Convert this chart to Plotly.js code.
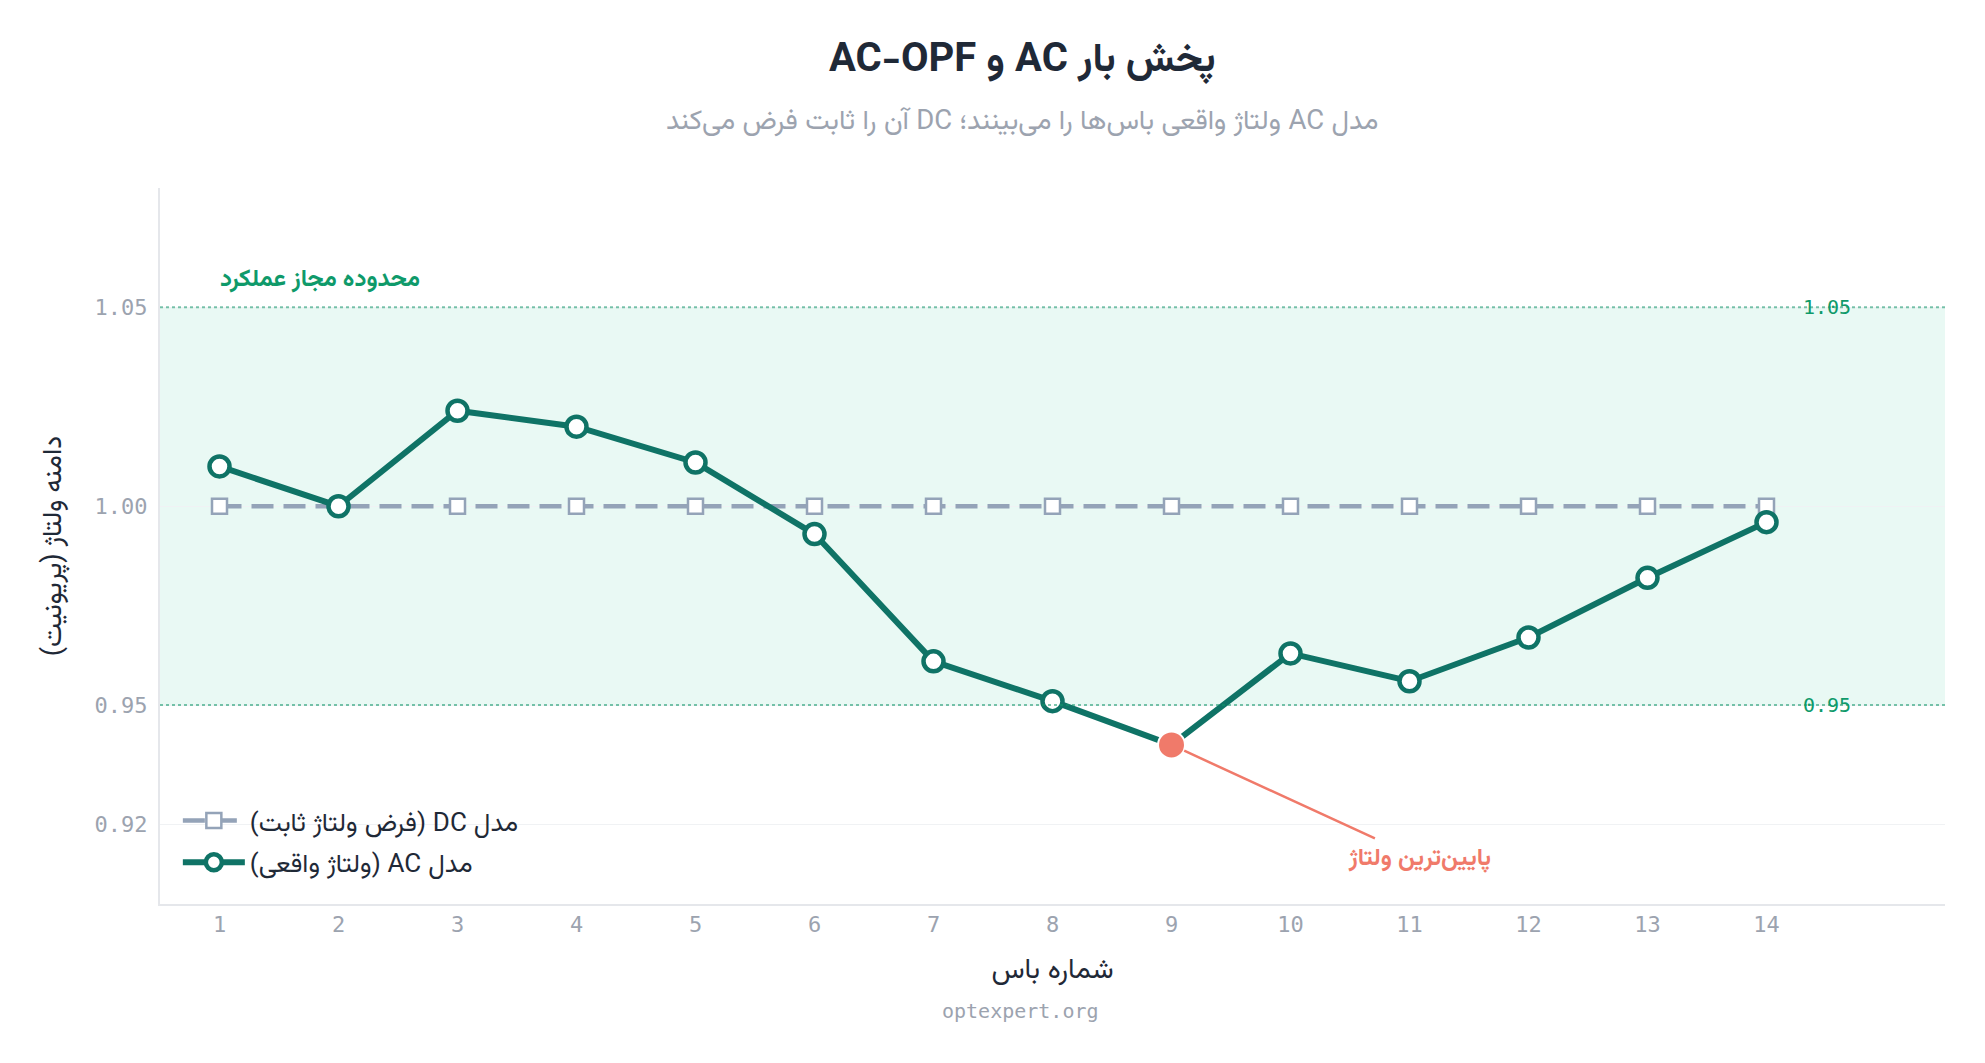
<!DOCTYPE html>
<html>
<head>
<meta charset="utf-8">
<script src="https://cdn.plot.ly/plotly-3.0.1.min.js"></script>
<style>
  html, body { margin: 0; padding: 0; background: #ffffff; }
  #gd { width: 1985px; height: 1063px; }
</style>
</head>
<body>
<div id="gd"></div>
<script>
// bus numbers and per-unit voltages
var buses = [1, 2, 3, 4, 5, 6, 7, 8, 9, 10, 11, 12, 13, 14];
var acVoltage = [1.010, 1.000, 1.024, 1.020, 1.011, 0.993, 0.961, 0.951, 0.940, 0.963, 0.956, 0.967, 0.982, 0.996];
var dcVoltage = [1, 1, 1, 1, 1, 1, 1, 1, 1, 1, 1, 1, 1, 1];
var vMin = 0.95;
var vMax = 1.05;
var yTicks = [0.92, 0.95, 1.00, 1.05];
var yTickText = ["0.92", "0.95", "1.00", "1.05"];

var faFont = "Vazirmatn, 'Noto Sans Arabic', 'DejaVu Sans', sans-serif";
var monoFont = "'DejaVu Sans Mono', 'Liberation Mono', monospace";
var teal = "#0f7366";
var coral = "#f07a6a";
var green = "#0f9a6a";

// force right-to-left order for Persian strings inside svg text
function rtl(s) { return "\u202B" + s + "\u202C"; }

// lowest AC voltage
var lowIdx = 0;
acVoltage.forEach(function (v, i) { if (v < acVoltage[lowIdx]) lowIdx = i; });

var dcTrace = {
  x: buses,
  y: dcVoltage,
  type: "scatter",
  mode: "lines+markers",
  name: rtl("مدل DC (فرض ولتاژ ثابت)"),
  legendgroup: "dc",
  line: { color: "#94a3b8", width: 4.5, dash: "22px,10px" },
  marker: { symbol: "square", size: 15, color: "#ffffff", line: { color: "#94a3b8", width: 2.5 } }
};

var acTrace = {
  x: buses,
  y: acVoltage,
  type: "scatter",
  mode: "lines+markers",
  name: rtl("مدل AC (ولتاژ واقعی)"),
  legendgroup: "ac",
  line: { color: teal, width: 6 },
  marker: { symbol: "circle", size: 20, color: "#ffffff", line: { color: teal, width: 4.5 } }
};

var lowTrace = {
  x: [buses[lowIdx]],
  y: [acVoltage[lowIdx]],
  type: "scatter",
  mode: "markers",
  showlegend: false,
  hoverinfo: "skip",
  marker: { symbol: "circle", size: 27, color: coral, line: { color: "#ffffff", width: 2 } }
};

var layout = {
  width: 1985,
  height: 1063,
  paper_bgcolor: "#ffffff",
  plot_bgcolor: "#ffffff",
  margin: { l: 160, r: 40, t: 188, b: 159 },
  font: { family: faFont, color: "#1f2937" },
  title: {
    text: rtl("<b>پخش بار AC و AC-OPF</b>"),
    font: { family: faFont, size: 40, color: "#1f2937" },
    xref: "container",
    yref: "container",
    x: 0.515,
    xanchor: "center",
    y: 0.946,
    yanchor: "middle"
  },
  xaxis: {
    range: [0.5, 15.5],
    tickvals: buses,
    ticktext: buses.map(String),
    showgrid: false,
    zeroline: false,
    showline: true,
    linecolor: "#e5e7eb",
    linewidth: 2,
    ticks: "",
    tickfont: { family: monoFont, size: 22, color: "#9ca3af" },
    title: { text: rtl("شماره باس"), font: { family: faFont, size: 28, color: "#1f2937" }, standoff: 22 }
  },
  yaxis: {
    range: [0.90, 1.08],
    tickvals: yTicks,
    ticktext: yTickText,
    showgrid: true,
    gridcolor: "#f0f2f4",
    gridwidth: 1,
    zeroline: false,
    showline: true,
    linecolor: "#e5e7eb",
    linewidth: 2,
    ticks: "",
    ticklabelstandoff: 6,
    tickfont: { family: monoFont, size: 22, color: "#9ca3af" },
    title: { text: rtl("دامنه ولتاژ (پریونیت)"), font: { family: faFont, size: 27, color: "#1f2937" }, standoff: 25 }
  },
  legend: {
    x: 0.01,
    y: 0.025,
    xanchor: "left",
    yanchor: "bottom",
    bgcolor: "rgba(255,255,255,0)",
    font: { family: faFont, size: 26, color: "#1f2937" },
    itemwidth: 62,
    tracegroupgap: 5
  },
  shapes: [
    {
      type: "rect", xref: "paper", yref: "y", x0: 0, x1: 1, y0: vMin, y1: vMax,
      fillcolor: "rgba(16,185,129,0.09)", line: { width: 0 }, layer: "below"
    },
    {
      type: "line", xref: "paper", yref: "y", x0: 0, x1: 1, y0: vMax, y1: vMax,
      line: { color: "rgba(16,150,105,0.55)", width: 2, dash: "dot" }
    },
    {
      type: "line", xref: "paper", yref: "y", x0: 0, x1: 1, y0: vMin, y1: vMin,
      line: { color: "rgba(16,150,105,0.55)", width: 2, dash: "dot" }
    }
  ],
  annotations: [
    {
      xref: "paper", yref: "paper", x: 0.483, y: 1.0908, xanchor: "center", yanchor: "middle",
      showarrow: false,
      text: rtl("مدل AC ولتاژ واقعی باس‌ها را می‌بینند؛ DC آن را ثابت فرض می‌کند"),
      font: { family: faFont, size: 27.5, color: "#9ca3af" }
    },
    {
      xref: "x", yref: "y", x: buses[0], y: vMax, xanchor: "left", yanchor: "bottom",
      xshift: -2, yshift: 6, showarrow: false,
      text: rtl("<b>محدوده مجاز عملکرد</b>"),
      font: { family: faFont, size: 24, color: green }
    },
    {
      xref: "paper", yref: "y", x: 0.934, y: vMax, xanchor: "center", yanchor: "middle",
      showarrow: false, text: vMax.toFixed(2),
      font: { family: monoFont, size: 20, color: green }
    },
    {
      xref: "paper", yref: "y", x: 0.934, y: vMin, xanchor: "center", yanchor: "middle",
      showarrow: false, text: vMin.toFixed(2),
      font: { family: monoFont, size: 20, color: green }
    },
    {
      xref: "x", yref: "y", x: buses[lowIdx], y: acVoltage[lowIdx],
      text: rtl("<b>پایین‌ترین ولتاژ</b>"),
      showarrow: true, arrowhead: 0, arrowwidth: 2.5, arrowcolor: coral,
      ax: 248, ay: 114, standoff: 14,
      font: { family: faFont, size: 24, color: coral }
    },
    {
      xref: "paper", yref: "paper", x: 0.482, y: -0.149, xanchor: "center", yanchor: "middle",
      showarrow: false, text: "optexpert.org",
      font: { family: monoFont, size: 20, color: "#9ca3af" }
    }
  ]
};

Plotly.newPlot("gd", [dcTrace, acTrace, lowTrace], layout, { displayModeBar: false, responsive: false });
</script>
</body>
</html>
